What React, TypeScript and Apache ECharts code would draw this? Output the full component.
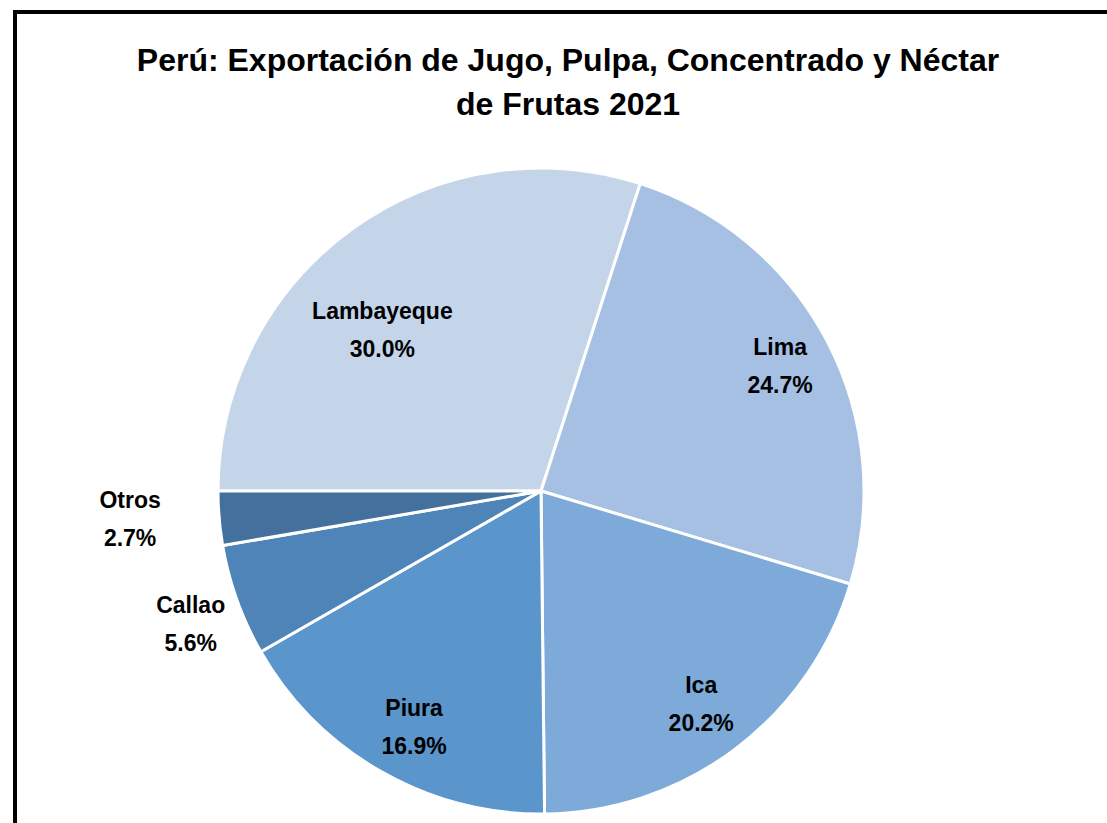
import React, { useEffect, useRef } from "react";
import * as echarts from "echarts";

const titleText = "Perú: Exportación de Jugo, Pulpa, Concentrado y Néctar\nde Frutas 2021";
const regions = ["Lambayeque", "Lima", "Ica", "Piura", "Callao", "Otros"];
const shares = [30.0, 24.7, 20.2, 16.9, 5.6, 2.7];
const colors = ["#c4d5ea", "#a5c0e3", "#7eaad9", "#5a95cb", "#4e84b7", "#43709c"];
// label placement: fraction of radius, angle offset (deg, clockwise)
const labelRadiusFrac = [0.7, 0.836, 0.825, 0.83, 1.16, 1.275];
const labelAngleOffset = [-8.5, 0, 0, -1.5, -1, 1];

const CX = 541;
const CY = 491;
const R = 323;
const FONT = "'Liberation Sans', Arial, sans-serif";

export default function App() {
  const ref = useRef<HTMLDivElement>(null);
  useEffect(() => {
    if (!ref.current) return;
    const chart = echarts.init(ref.current, null, { renderer: "svg" });
    chart.setOption({
      animation: false,
      backgroundColor: "#ffffff",
      title: {
        text: titleText,
        left: 563,
        textAlign: "center",
        top: 33,
        textStyle: {
          fontFamily: FONT,
          fontWeight: "bold",
          fontSize: 32,
          lineHeight: 44,
          color: "#000000",
        },
      },
      graphic: [
        {
          type: "rect",
          shape: { x: 15, y: 12, width: 1200, height: 900 },
          style: { fill: "none", stroke: "#000000", lineWidth: 4 },
          silent: true,
        },
      ],
      series: [
        {
          type: "pie",
          center: [CX, CY],
          radius: [0, R],
          startAngle: 180,
          clockwise: true,
          avoidLabelOverlap: false,
          itemStyle: { borderColor: "#ffffff", borderWidth: 3 },
          label: {
            show: true,
            position: "inside",
            formatter: (p: any) => `${p.name}\n${Number(p.value).toFixed(1)}%`,
            fontFamily: FONT,
            fontWeight: "bold",
            fontSize: 23,
            lineHeight: 38,
            color: "#000000",
            align: "center",
          },
          labelLine: { show: false },
          labelLayout: (p: any) => {
            const i = p.dataIndex;
            const lr = p.labelRect;
            const lx = lr.x + lr.width / 2;
            const ly = lr.y + lr.height / 2;
            const ang = Math.atan2(ly - CY, lx - CX) + (labelAngleOffset[i] * Math.PI) / 180;
            const rr = R * labelRadiusFrac[i];
            const tx = CX + rr * Math.cos(ang);
            const ty = CY + rr * Math.sin(ang);
            return { dx: tx - lx, dy: ty - ly };
          },
          data: regions.map((name, i) => ({
            name,
            value: shares[i],
            itemStyle: { color: colors[i] },
          })),
        },
      ],
    });
    return () => chart.dispose();
  }, []);
  return (
    <div
      ref={ref}
      style={{ position: "absolute", left: 0, top: 0, width: 1107, height: 823 }}
    />
  );
}
